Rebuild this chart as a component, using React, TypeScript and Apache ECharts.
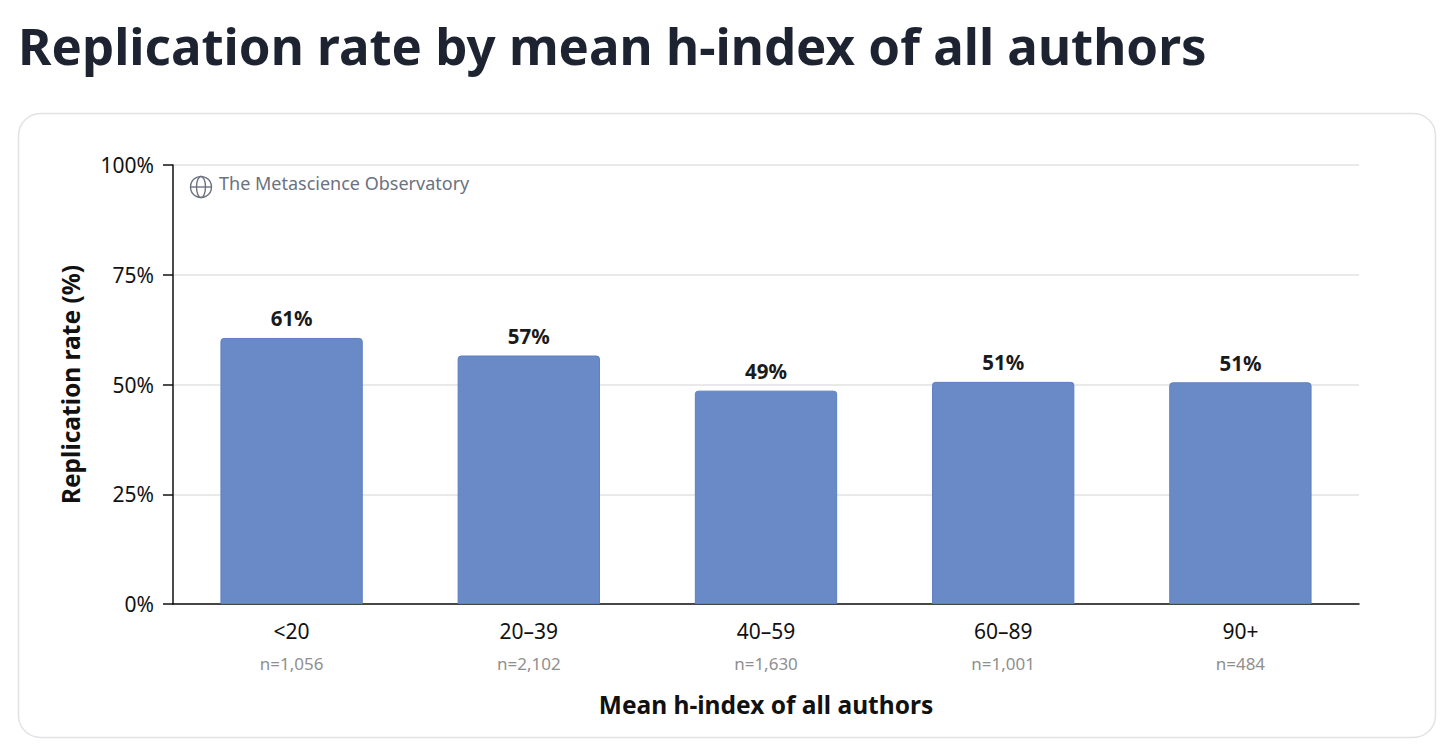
import React, { useEffect, useRef } from "react";
import * as echarts from "echarts";

const categories = ["<20", "20–39", "40–59", "60–89", "90+"];
const sampleSizes = ["n=1,056", "n=2,102", "n=1,630", "n=1,001", "n=484"];
const rates = [60.6, 56.6, 48.6, 50.6, 50.5];
const yTicks = [0, 25, 50, 75, 100];

const FONT = "'Noto Sans', 'Open Sans', sans-serif";

export default function App() {
  const ref = useRef<HTMLDivElement>(null);
  useEffect(() => {
    if (!ref.current) return;
    const chart = echarts.init(ref.current, undefined, { renderer: "svg" });
    const iconColor = "#6b7280";
    chart.setOption({
      animation: false,
      backgroundColor: "#ffffff",
      textStyle: { fontFamily: FONT },
      title: {
        text: "Replication rate by mean h-index of all authors",
        left: 13,
        top: 14,
        textStyle: {
          fontFamily: FONT,
          fontSize: 51,
          fontWeight: "bold",
          color: "#1d2330",
        },
      },
      graphic: [
        {
          type: "rect",
          z: -10,
          shape: { x: 18.5, y: 113.5, width: 1417, height: 624, r: 22 },
          style: { fill: "#ffffff", stroke: "#e1e2e6", lineWidth: 1.5 },
        },
        {
          type: "group",
          left: 188,
          top: 174,
          z: 10,
          children: [
            { type: "circle", shape: { cx: 11.5, cy: 11.5, r: 10.5 }, style: { fill: "none", stroke: iconColor, lineWidth: 1.4 } },
            { type: "ellipse", shape: { cx: 11.5, cy: 11.5, rx: 4.5, ry: 10.5 }, style: { fill: "none", stroke: iconColor, lineWidth: 1.4 } },
            { type: "line", shape: { x1: 1, y1: 11.5, x2: 22, y2: 11.5 }, style: { stroke: iconColor, lineWidth: 1.4 } },
          ],
        },
        {
          type: "text",
          left: 219,
          top: 174,
          z: 10,
          style: {
            text: "The Metascience Observatory",
            fontFamily: FONT,
            fontSize: 18,
            fill: iconColor,
          },
        },
      ],
      grid: { left: 173, right: 97, top: 165, bottom: 150, containLabel: false },
      xAxis: {
        type: "category",
        data: categories,
        name: "Mean h-index of all authors",
        nameLocation: "middle",
        nameGap: 88,
        nameTextStyle: { fontFamily: FONT, fontSize: 24.5, fontWeight: "bold", color: "#111" },
        axisLine: { lineStyle: { color: "#111", width: 1.5 } },
        axisTick: { alignWithLabel: true, length: 9, lineStyle: { color: "#111", width: 1.5 } },
        axisLabel: {
          margin: 12,
          formatter: (v: string, i: number) => `{a|${v}}\n{b|${sampleSizes[i]}}`,
          rich: {
            a: { fontFamily: FONT, fontSize: 21, color: "#111", lineHeight: 30 },
            b: { fontFamily: FONT, fontSize: 17, color: "#8f8f8f", lineHeight: 34 },
          },
        },
      },
      yAxis: {
        type: "value",
        min: yTicks[0],
        max: yTicks[yTicks.length - 1],
        interval: 25,
        name: "Replication rate (%)",
        nameLocation: "middle",
        nameGap: 90,
        nameTextStyle: { fontFamily: FONT, fontSize: 24.5, fontWeight: "bold", color: "#111" },
        axisLine: { show: true, lineStyle: { color: "#111", width: 1.5 } },
        axisTick: { show: true, length: 10, lineStyle: { color: "#111", width: 1.5 } },
        axisLabel: {
          margin: 19,
          formatter: (v: number) => `${v}%`,
          fontFamily: FONT,
          fontSize: 21,
          color: "#111",
        },
        splitLine: { lineStyle: { color: "#e2e2e2", width: 1.5 } },
      },
      series: [
        {
          type: "bar",
          data: rates,
          barWidth: "60%",
          itemStyle: {
            color: "#6a8ac7",
            borderColor: "#5d7fc0",
            borderWidth: 1,
            borderRadius: [3, 3, 0, 0],
          },
          label: {
            show: true,
            position: "top",
            distance: 9,
            formatter: (p: any) => `${Math.round(p.value)}%`,
            fontFamily: FONT,
            fontSize: 20.5,
            fontWeight: "bold",
            color: "#1a1a1a",
          },
        },
      ],
    });
    return () => chart.dispose();
  }, []);
  return (
    <div
      ref={ref}
      style={{ position: "fixed", left: 0, top: 0, width: 1456, height: 754 }}
    />
  );
}
